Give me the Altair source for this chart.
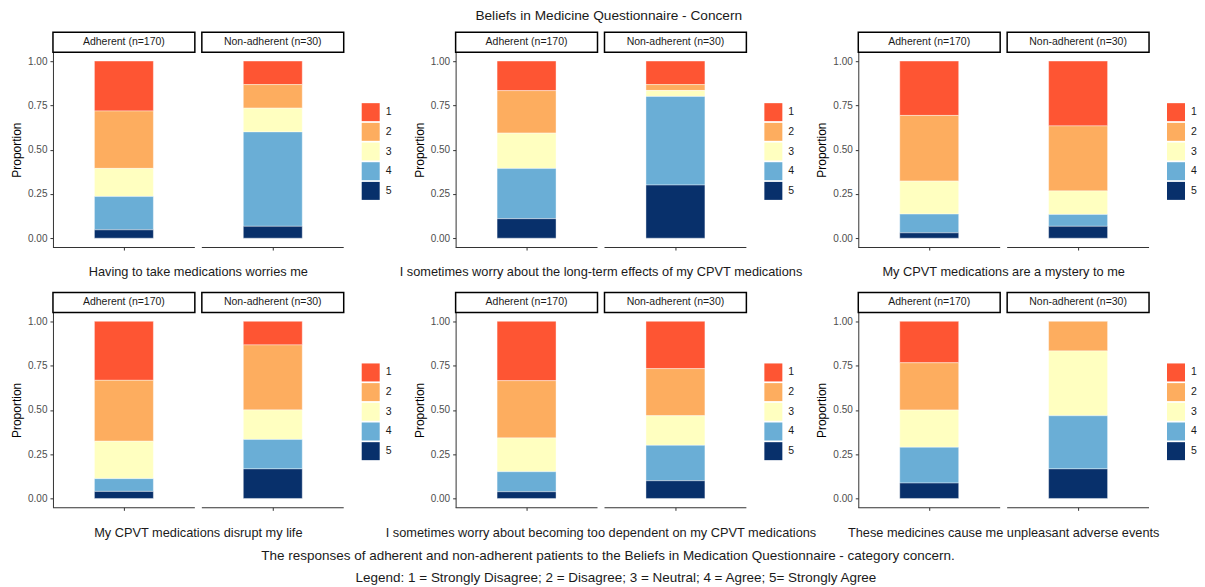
import altair as alt
import pandas as pd

# ---------------- data ----------------
questions = [
    "Having to take medications worries me",
    "I sometimes worry about the long-term effects of my CPVT medications",
    "My CPVT medications are a mystery to me",
    "My CPVT medications disrupt my life",
    "I sometimes worry about becoming too dependent on my CPVT medications",
    "These medicines cause me unpleasant adverse events",
]
groups = ["Adherent (n=170)", "Non-adherent (n=30)"]
responses = ["1", "2", "3", "4", "5"]
colors = ["#FE5533", "#FDAD5F", "#FFFFC0", "#6AAED6", "#08306B"]

# proportions for responses 1..5
adherent = [
    [0.282, 0.324, 0.159, 0.188, 0.047],
    [0.167, 0.240, 0.200, 0.283, 0.110],
    [0.307, 0.371, 0.186, 0.106, 0.030],
    [0.333, 0.344, 0.211, 0.072, 0.040],
    [0.335, 0.323, 0.191, 0.113, 0.038],
    [0.234, 0.267, 0.210, 0.202, 0.087],
]
nonadherent = [
    [0.133, 0.133, 0.134, 0.533, 0.067],
    [0.133, 0.033, 0.034, 0.500, 0.300],
    [0.366, 0.367, 0.133, 0.067, 0.067],
    [0.133, 0.367, 0.167, 0.166, 0.167],
    [0.267, 0.266, 0.167, 0.200, 0.100],
    [0.000, 0.167, 0.366, 0.300, 0.167],
]

main_title = "Beliefs in Medicine Questionnaire - Concern"
caption = [
    "The responses of adherent and non-adherent patients to the Beliefs in Medication Questionnaire - category concern.",
    "Legend: 1 = Strongly Disagree; 2 = Disagree; 3 = Neutral; 4 = Agree; 5= Strongly Agree",
]

# ---------------- layout constants ----------------
HALF, GAP = 142, 7
W = 2 * HALF + GAP
H = 195
STRIP = 20
FONT = "Liberation Sans"
AXIS_COLOR = "#333333"

xscale = alt.Scale(domain=groups, paddingInner=GAP / (HALF + GAP), paddingOuter=0)


def panel(qi):
    rows = []
    for gi, props in enumerate([adherent[qi], nonadherent[qi]]):
        for r, p in zip(responses, props):
            rows.append({"grp": groups[gi], "resp": r, "prop": p})
    df = pd.DataFrame(rows)
    gdf = pd.DataFrame({"grp": groups})

    bars = (
        alt.Chart(df)
        .mark_bar(size=59, stroke="white", strokeWidth=0.4)
        .encode(
            x=alt.X(
                "grp:N",
                scale=xscale,
                title=None,
                axis=alt.Axis(
                    labels=False,
                    title=None,
                    domain=False,
                    tickColor=AXIS_COLOR,
                    tickSize=3,
                    grid=False,
                ),
            ),
            y=alt.Y(
                "prop:Q",
                stack="zero",
                scale=alt.Scale(domain=[-0.05, 1.05], nice=False, zero=False),
                axis=alt.Axis(
                    values=[0, 0.25, 0.5, 0.75, 1.0],
                    format=".2f",
                    title="Proportion",
                    titleFontSize=12,
                    titleFontWeight="normal",
                    titleColor="#000000",
                    titlePadding=4,
                    labelFontSize=10,
                    labelColor="#4D4D4D",
                    labelPadding=3,
                    tickColor=AXIS_COLOR,
                    tickSize=3,
                    domainColor=AXIS_COLOR,
                    grid=False,
                ),
            ),
            color=alt.Color(
                "resp:N",
                scale=alt.Scale(domain=responses, range=colors),
                legend=alt.Legend(
                    title=None,
                    orient="none",
                    legendX=W + 18,
                    legendY=51,
                    padding=0,
                    symbolType="square",
                    symbolSize=324,
                    symbolStrokeWidth=0,
                    symbolOpacity=1,
                    rowPadding=1.7,
                    labelFontSize=10.5,
                    labelColor="#1A1A1A",
                    labelOffset=6,
                ),
            ),
            order=alt.Order("resp:N", sort="descending"),
        )
    )
    baseline_rule = (
        alt.Chart(gdf)
        .mark_rect(color=AXIS_COLOR)
        .encode(x=alt.X("grp:N", scale=xscale), y=alt.value(H), y2=alt.value(H + 1))
    )
    strips = (
        alt.Chart(gdf)
        .mark_rect(fill="white", stroke="#000000", strokeWidth=1.5)
        .encode(x=alt.X("grp:N", scale=xscale), y=alt.value(-STRIP), y2=alt.value(0))
    )
    strip_text = (
        alt.Chart(gdf)
        .mark_text(fontSize=10.5, color="#1A1A1A", baseline="middle", align="center")
        .encode(x=alt.X("grp:N", scale=xscale), y=alt.value(-STRIP / 2), text="grp:N")
    )
    qdf = pd.DataFrame({"q": [questions[qi]]})
    qtext = (
        alt.Chart(qdf)
        .mark_text(fontSize=12.8, color="#1A1A1A", baseline="middle", align="center")
        .encode(x=alt.value(W / 2), y=alt.value(H + 24.5 + (qi // 3)), text="q:N")
    )
    layers = [bars, baseline_rule, strips, strip_text, qtext]
    if qi == 4:
        for li, line in enumerate(caption):
            cdf = pd.DataFrame({"c": [line]})
            layers.append(
                alt.Chart(cdf)
                .mark_text(fontSize=13.5, color="#1A1A1A", baseline="middle", align="center")
                .encode(x=alt.value(W / 2 + 7 + 8 * li), y=alt.value(H + 49 + 22 * li), text="c:N")
            )
    return alt.layer(*layers).properties(width=W, height=H)


chart = (
    alt.concat(
        *[panel(q) for q in range(6)],
        columns=3,
        spacing={"row": 65.5, "column": 112},
        bounds="flush",
        title=alt.TitleParams(
            main_title,
            anchor="middle",
            fontSize=13.7,
            fontWeight="normal",
            color="#1A1A1A",
            offset=9,
            dx=5,
        ),
    )
    .resolve_scale(color="independent")
    .resolve_legend(color="independent")
    .properties(padding={"left": 2, "top": 0, "right": 0, "bottom": 0}, background="white")
    .configure(font=FONT)
    .configure_view(stroke=None)
)

chart.save("out.html", embed_options={"renderer": "svg", "actions": False})
